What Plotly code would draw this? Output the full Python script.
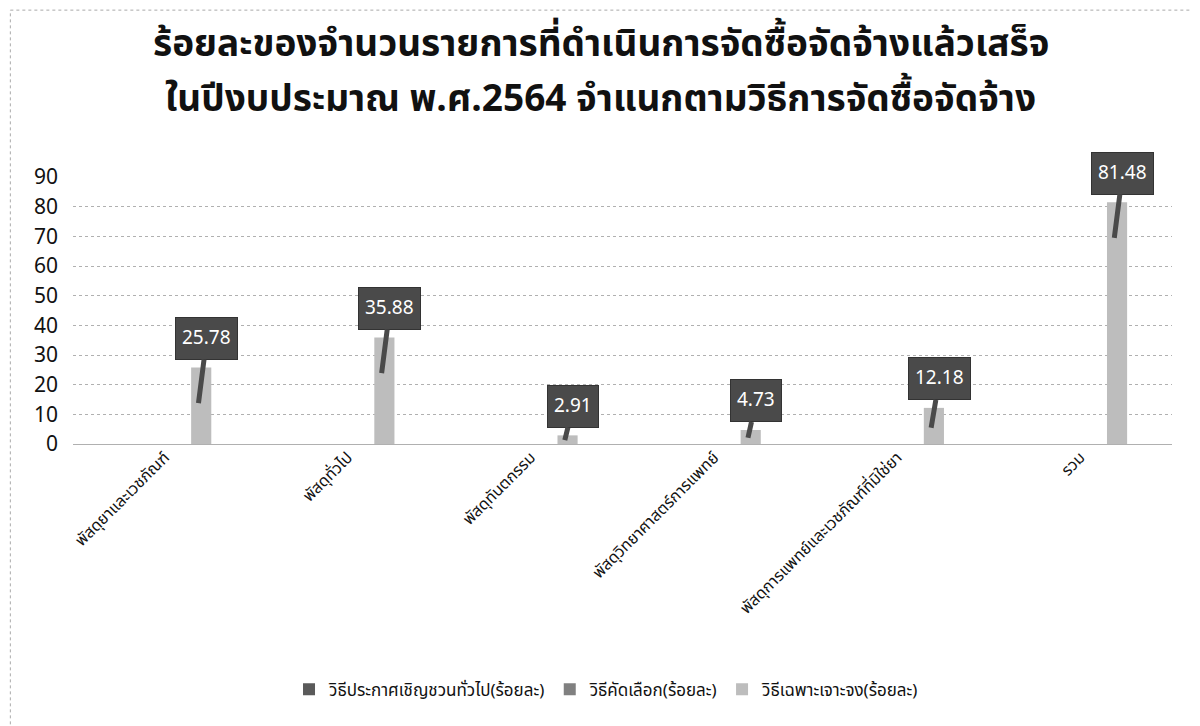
import plotly.graph_objects as go

categories = [
    "พัสดุยาและเวชภัณฑ์",
    "พัสดุทั่วไป",
    "พัสดุทันตกรรม",
    "พัสดุวิทยาศาสตร์การแพทย์",
    "พัสดุการแพทย์และเวชภัณฑ์ที่มิใช่ยา",
    "รวม",
]
series_names = [
    "วิธีประกาศเชิญชวนทั่วไป(ร้อยละ)",
    "วิธีคัดเลือก(ร้อยละ)",
    "วิธีเฉพาะเจาะจง(ร้อยละ)",
]
open_invite = [0, 0, 0, 0, 0, 0]
selection = [0, 0, 0, 0, 0, 0]
specific = [25.78, 35.88, 2.91, 4.73, 12.18, 81.48]
y_ticks = [0, 10, 20, 30, 40, 50, 60, 70, 80, 90]

title_lines = [
    "ร้อยละของจำนวนรายการที่ดำเนินการจัดซื้อจัดจ้างแล้วเสร็จ",
    "ในปีงบประมาณ พ.ศ.2564 จำแนกตามวิธีการจัดซื้อจัดจ้าง",
]

FONT = "Tahoma, 'Noto Sans Thai', 'Noto Sans', 'Liberation Sans', sans-serif"
colors = ["#5a5a5a", "#808080", "#bdbdbd"]
bargap = 0.4
bargroupgap = 0.45

fig = go.Figure()
for name, vals, col in zip(series_names, [open_invite, selection, specific], colors):
    fig.add_trace(go.Bar(
        x=list(range(len(categories))), y=vals, name=name,
        marker=dict(color=col, line=dict(width=0)),
    ))

# callout labels for the specific-method series
slot = (1 - bargap) / 3
for i, v in enumerate(specific):
    xc = i + slot
    box_y = min(v + 9.8, 91.5)
    tip_y = v - 12 if v - 12 > 5 else v * 0.45
    fig.add_annotation(
        x=xc - 0.015, y=tip_y, xref="x", yref="y",
        ax=xc + 0.03, ay=box_y, axref="x", ayref="y",
        text=f"{v:.2f}", showarrow=True, arrowhead=0, arrowwidth=5,
        arrowcolor="#4a4a4a",
        font=dict(family=FONT, size=19, color="white"),
        bgcolor="#4a4a4a", bordercolor="#333333", borderwidth=1, borderpad=6,
    )

for k, line in enumerate(title_lines):
    fig.add_annotation(
        x=0.48, y=[1.494, 1.288][k], xref="paper", yref="paper",
        xanchor="center", yanchor="middle", showarrow=False,
        text=f"<b>{line}</b>",
        font=dict(family=FONT, size=37, color="#111111"),
    )

# chart border (left and top, dotted)
fig.add_shape(type="line", xref="paper", yref="paper", x0=-0.057, x1=-0.057, y0=-1.05, y1=1.625,
              line=dict(color="#aaaaaa", width=1, dash="dot"))
fig.add_shape(type="line", xref="paper", yref="paper", x0=-0.057, x1=1.02, y0=1.625, y1=1.625,
              line=dict(color="#aaaaaa", width=1, dash="dot"))

fig.update_layout(
    width=1192, height=718,
    margin=dict(l=65, r=28, t=169, b=282),
    paper_bgcolor="white", plot_bgcolor="white",
    barmode="group", bargap=bargap, bargroupgap=bargroupgap,
    font=dict(family=FONT, color="#111111"),
    showlegend=True,
    legend=dict(orientation="h", x=0.485, y=-0.92, xanchor="center", yanchor="middle",
                font=dict(family=FONT, size=17, color="#111111"), itemwidth=30),
    xaxis=dict(
        tickmode="array", tickvals=list(range(len(categories))), ticktext=categories,
        tickangle=-45, tickfont=dict(family=FONT, size=16, color="#111111"),
        showgrid=False, showline=False, zeroline=False, ticks="",
        range=[-0.5, len(categories) - 0.5],
    ),
    yaxis=dict(
        range=[0, 90], tickvals=y_ticks, tickfont=dict(family=FONT, size=21, color="#111111"),
        showgrid=True, gridcolor="#b0b0b0", griddash="dot", gridwidth=1,
        zeroline=True, zerolinecolor="#b0b0b0", zerolinewidth=1,
        showline=False, ticks="", ticklabelstandoff=14,
    ),
)

fig.write_html("out.html")
